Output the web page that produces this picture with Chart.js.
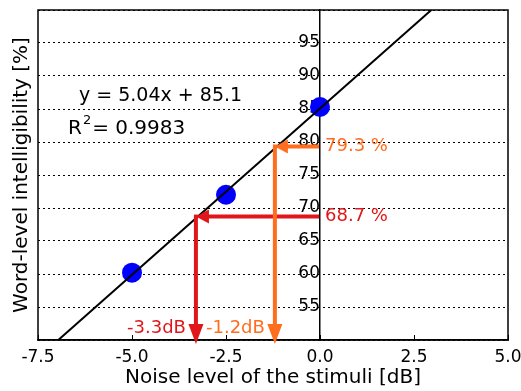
<!DOCTYPE html>
<html>
<head>
<meta charset="utf-8">
<script src="https://cdn.jsdelivr.net/npm/chart.js@4/dist/chart.umd.min.js"></script>
<style>
  html, body { margin: 0; padding: 0; background: #ffffff; }
  #wrap { width: 521px; height: 391px; }
</style>
</head>
<body>
<div id="wrap"><canvas id="c" width="521" height="391"></canvas></div>
<script>
// ---- data ----
const noiseDb = [-5.0, -2.5, 0.0];
const intelligibility = [60.2, 72.0, 85.3];
const fitLineX = [-6.96, 2.96];
const fitLineY = [50, 100];
const fitEquation = 'y = 5.04x + 85.1';
const rSquaredValue = '0.9983';
const arrowLevels = [68.7, 79.3];
const arrowDb = [-3.3, -1.2];
const arrowBottom = 49.4;
const xTickValues = [-7.5, -5.0, -2.5, 0.0, 2.5, 5.0];
const xTickLabels = ['-7.5', '-5.0', '-2.5', '0.0', '2.5', '5.0'];
const yTickValues = [50, 55, 60, 65, 70, 75, 80, 85, 90, 95, 100];
const yTickLabels = ['', '55', '60', '65', '70', '75', '80', '85', '90', '95', ''];
const xTitle = 'Noise level of the stimuli [dB]';
const yTitle = 'Word-level intelligibility [%]';

const FONT = "'DejaVu Sans', sans-serif";
const arrowColors = ['#e0161a', '#ff6d1f'];

function zeroPad(s) { s.paddingTop = 0; s.paddingBottom = 0; s.paddingLeft = 0; s.paddingRight = 0; }

function drawArrow(ctx, x0, y0, x1, y1, color, headLen, headW, lw) {
  const dx = x1 - x0, dy = y1 - y0;
  const len = Math.hypot(dx, dy);
  const ux = dx / len, uy = dy / len;
  const bx = x1 - ux * headLen, by = y1 - uy * headLen;
  ctx.strokeStyle = color; ctx.fillStyle = color;
  ctx.lineWidth = lw; ctx.lineCap = 'butt';
  ctx.beginPath(); ctx.moveTo(x0, y0); ctx.lineTo(bx + ux * 1, by + uy * 1); ctx.stroke();
  ctx.beginPath();
  ctx.moveTo(x1, y1);
  ctx.lineTo(bx - uy * headW / 2, by + ux * headW / 2);
  ctx.lineTo(bx + uy * headW / 2, by - ux * headW / 2);
  ctx.closePath(); ctx.fill();
}

const overlay = {
  id: 'overlay',
  afterDatasetsDraw(chart) {
    const { ctx, chartArea: a, scales } = chart;
    const x = scales.x, y = scales.y;
    ctx.save();
    // frame
    ctx.strokeStyle = '#000'; ctx.lineWidth = 1.5;
    ctx.strokeRect(a.left, a.top, a.right - a.left, a.bottom - a.top);
    // arrows + labels
    const px0 = x.getPixelForValue(0);
    const pyB = y.getPixelForValue(arrowBottom);
    arrowLevels.forEach((lvl, i) => {
      const c = arrowColors[i];
      const tx = x.getPixelForValue(arrowDb[i]);
      const py = y.getPixelForValue(lvl);
      drawArrow(ctx, px0 - 1, py, tx, py, c, 13, 14, 4);
      drawArrow(ctx, tx, py - 2, tx, pyB, c, 20, 15, 4);
      ctx.fillStyle = c;
      ctx.font = '18px ' + FONT;
      ctx.textAlign = 'left'; ctx.textBaseline = 'middle';
      ctx.fillText(lvl.toFixed(1) + ' %', px0 + 5, py);
      ctx.textAlign = 'right'; ctx.textBaseline = 'alphabetic';
      ctx.fillText(arrowDb[i].toFixed(1) + 'dB', tx - 10, a.bottom - 7);
    });
    // equation text
    ctx.fillStyle = '#000';
    ctx.textAlign = 'left'; ctx.textBaseline = 'alphabetic';
    ctx.font = '19px ' + FONT;
    ctx.fillText(fitEquation, a.left + 41, a.top + 91);
    ctx.font = '20px ' + FONT;
    const rx = a.left + 30, ry = a.top + 124;
    ctx.fillText('R', rx, ry);
    const wR = ctx.measureText('R').width;
    ctx.font = '13px ' + FONT;
    ctx.fillText('2', rx + wR + 1, ry - 10);
    const w2 = ctx.measureText('2').width;
    ctx.font = '20px ' + FONT;
    ctx.fillText('= ' + rSquaredValue, rx + wR + w2 + 2, ry);
    ctx.restore();
  }
};

new Chart(document.getElementById('c'), {
  data: {
    datasets: [
      {
        type: 'line',
        data: fitLineX.map((v, i) => ({ x: v, y: fitLineY[i] })),
        borderColor: '#000', borderWidth: 2, pointRadius: 0, fill: false,
        order: 0
      },
      {
        type: 'scatter',
        data: noiseDb.map((v, i) => ({ x: v, y: intelligibility[i] })),
        backgroundColor: '#0000ff', borderWidth: 0, pointRadius: 10,
        order: 1
      }
    ]
  },
  options: {
    responsive: false,
    devicePixelRatio: 1,
    animation: false,
    layout: { padding: { top: 8, right: 13, left: 0, bottom: 0 } },
    plugins: { legend: { display: false }, tooltip: { enabled: false } },
    scales: {
      x: {
        type: 'linear', position: 'bottom', min: -7.5, max: 5,
        afterBuildTicks: s => { s.ticks = xTickValues.map(v => ({ value: v })); },
        afterFit: zeroPad,
        ticks: {
          callback: (v, i) => xTickLabels[i],
          color: '#000', padding: 14,
          font: { family: FONT, size: 17, lineHeight: 1 },
          maxRotation: 0
        },
        grid: { drawOnChartArea: false, drawTicks: true, tickLength: -5, color: '#000', lineWidth: 1 },
        border: { display: true, color: '#000', width: 1.5 },
        title: {
          display: true, text: xTitle, color: '#000',
          font: { family: FONT, size: 20, lineHeight: 1 },
          padding: { top: -12.5, bottom: 3.5 }
        }
      },
      y: {
        type: 'linear', position: { x: 0 }, min: 50, max: 100,
        afterBuildTicks: s => { s.ticks = yTickValues.map(v => ({ value: v })); },
        afterFit: zeroPad,
        ticks: {
          callback: (v, i) => yTickLabels[i],
          color: '#000', padding: 8,
          font: { family: FONT, size: 17, lineHeight: 1 }
        },
        grid: { drawTicks: false, color: '#000', lineWidth: 1 },
        border: { display: true, color: '#000', width: 1.5, dash: [2, 3] }
      },
      yTitle: {
        type: 'linear', position: 'left', min: 50, max: 100,
        afterFit: zeroPad,
        ticks: { display: false },
        grid: { display: false, drawTicks: false },
        border: { display: false },
        title: {
          display: true, text: yTitle, color: '#000',
          font: { family: FONT, size: 20, lineHeight: 1 },
          padding: { top: 12, bottom: 6 }
        }
      }
    }
  },
  plugins: [overlay]
});
</script>
</body>
</html>
